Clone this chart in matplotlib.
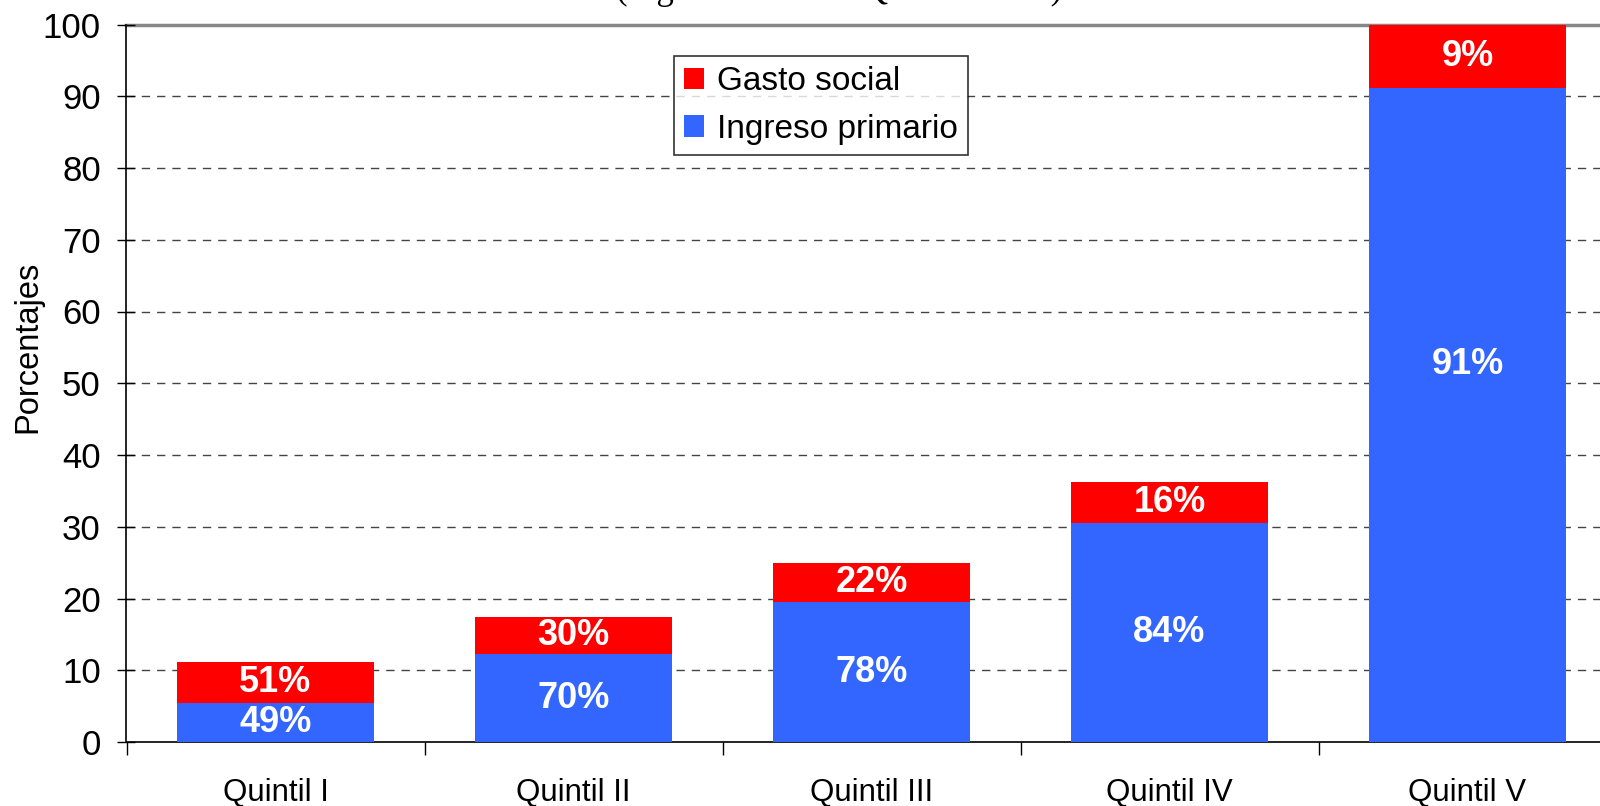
import matplotlib
matplotlib.use("Agg")
import matplotlib.pyplot as plt
from matplotlib.patches import Patch
import numpy as np

plt.rcParams['font.family'] = ['Liberation Sans', 'DejaVu Sans']

categories = ["Quintil I", "Quintil II", "Quintil III", "Quintil IV", "Quintil V"]
ingreso_primario = [5.4, 12.2, 19.5, 30.5, 91.2]
gasto_social = [5.7, 5.2, 5.5, 5.8, 8.8]
labels_primario = ["49%", "70%", "78%", "84%", "91%"]
labels_gasto = ["51%", "30%", "22%", "16%", "9%"]

RED = "#FF0000"
BLUE = "#3366FF"

fig = plt.figure(figsize=(16, 8.06), dpi=100)
W, H = 1600, 806
left_px, right_px = 126.5, 126.5 + 5 * 298
top_px, bottom_px = 24.5, 742
ax = fig.add_axes([left_px / W, (H - bottom_px) / H,
                   (right_px - left_px) / W, (bottom_px - top_px) / H])

x = np.arange(len(categories))
bw = 0.66
ax.bar(x, ingreso_primario, width=bw, color=BLUE, zorder=3)
ax.bar(x, gasto_social, width=bw, bottom=ingreso_primario, color=RED, zorder=3)

ax.set_xlim(-0.5, len(categories) - 0.5)
ax.set_ylim(0, 100)
ax.set_yticks(np.arange(0, 101, 10))
ax.tick_params(axis='y', labelsize=25, length=13, width=1, direction='inout', pad=12)

# gridlines
for v in range(10, 100, 10):
    ax.axhline(v, color='#444444', lw=1, ls=(0, (6, 5)), zorder=1)
ax.axhline(100, color='#888888', lw=2.5, zorder=1, clip_on=False)

# x ticks at category boundaries, labels centred
ax.set_xticks(np.arange(-0.5, len(categories), 1.0))
ax.set_xticklabels([])
ax.set_xticks(x, minor=True)
ax.set_xticklabels(categories, minor=True, fontsize=22.5)
ax.tick_params(axis='x', which='major', length=9, width=1, direction='out')
ax.tick_params(axis='x', which='minor', length=0, pad=26)

for s in ['top', 'right']:
    ax.spines[s].set_visible(False)
ax.spines['left'].set_linewidth(1.2)
ax.spines['bottom'].set_linewidth(1.2)

fig.text(27.5 / W, (H - 347) / H, "Porcentajes", rotation=90, ha='center',
         va='center', fontsize=23.5)

# data labels
for i in range(len(categories)):
    yb = ingreso_primario[i] / 2
    if ingreso_primario[i] > 80:
        yb = ingreso_primario[i] * 0.577
    ax.text(x[i], yb, labels_primario[i], ha='center', va='center',
            color='white', fontsize=26, fontweight='bold', zorder=4)
    yr = ingreso_primario[i] + gasto_social[i] / 2
    ax.text(x[i], yr, labels_gasto[i], ha='center', va='center',
            color='white', fontsize=26, fontweight='bold', zorder=4)

handles = [Patch(facecolor=RED, edgecolor='none', label="Gasto social"),
           Patch(facecolor=BLUE, edgecolor='none', label="Ingreso primario")]
leg = ax.legend(handles=handles, loc='upper left',
                bbox_to_anchor=((674 - left_px) / (right_px - left_px),
                                (bottom_px - 56) / (bottom_px - top_px)),
                fontsize=24, frameon=True, fancybox=False, edgecolor='black',
                handlelength=0.6, handleheight=0.6, handletextpad=0.4,
                borderpad=0.3, labelspacing=0.5, borderaxespad=0)
leg.get_frame().set_linewidth(1.2)
leg.set_zorder(5)

# partially cropped title at the very top (only descenders visible)
fig.text(839.5 / W, 1 + 1 / H, "(Ingreso total del Quintil = 100)", ha='center',
         va='baseline', fontsize=25, family=['Liberation Serif', 'DejaVu Serif'])

fig.savefig("out.png", dpi=100)
